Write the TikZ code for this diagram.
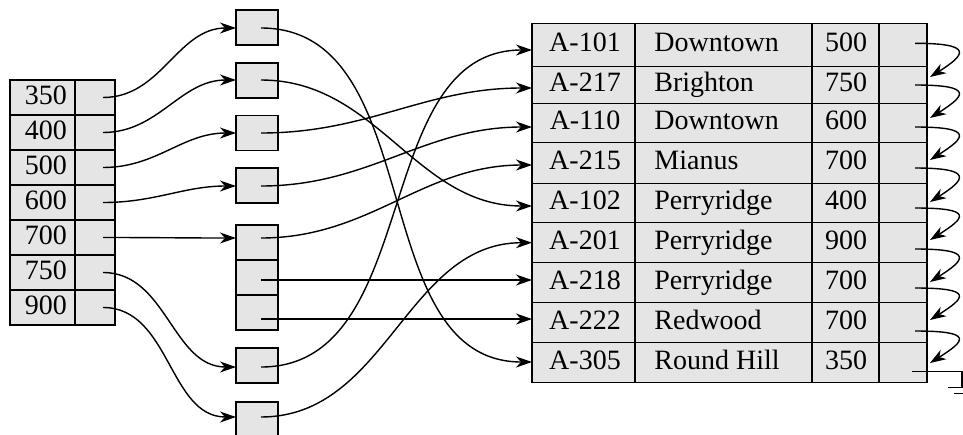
\documentclass[tikz,border=0pt]{standalone}
\usepackage{fontspec}
\setmainfont{Liberation Serif}
\usetikzlibrary{arrows.meta,calc}
\begin{document}
\begin{tikzpicture}[x=0.5pt,y=-0.5pt,
  cell/.style={draw, fill=gray!20, line width=0.7pt, inner sep=0pt, outer sep=0pt},
  txt/.style={inner sep=0pt, font=\fontsize{14pt}{16pt}\selectfont, text height=0.66em, text depth=0pt},
  ptr/.style={line width=0.7pt},
  arr/.style={line width=0.7pt, -{Stealth[length=8pt,width=5.5pt,inset=2.5pt]}},
]
\useasboundingbox (0,0) rectangle (963,434);

% ---------- left index ----------
\foreach \v [count=\i] in {350,400,500,600,700,750,900}{
  \node[cell, minimum width=32.5pt, minimum height=17.5pt] (k\i) at (42.5,{62.5+35*\i}) {};
  \node[txt] (kt\i) at (46,{62.5+35*\i}) {\v};
  \node[cell, minimum width=20pt, minimum height=17.5pt] (p\i) at (95,{62.5+35*\i}) {};
  \coordinate (pk\i) at ($(p\i.center)+(8,0)$);
}

% ---------- buckets ----------
\foreach \n/\y in {b1/27.5, b2/80.5, b3/133, b4/185.5, b5a/242.5, b5b/277.5, b5c/312.5, b6/365.5, b7/419.5}{
  \node[cell, minimum width=21pt, minimum height=17.5pt] (\n) at (257,\y) {};
}
\coordinate (pb1) at ($(b1.center)+(4,0.5)$);
\coordinate (pb2) at ($(b2.center)+(4,-0.5)$);
\coordinate (pb3) at ($(b3.center)+(4,0)$);
\coordinate (pb4) at ($(b4.center)+(4,0.5)$);
\coordinate (pb5a) at ($(b5a.center)+(4,-4.5)$);
\coordinate (pb5b) at ($(b5b.center)+(4,2.5)$);
\coordinate (pb5c) at ($(b5c.center)+(4,6.5)$);
\coordinate (pb6) at ($(b6.center)+(4,1.5)$);
\coordinate (pb7) at ($(b7.center)+(4,-2.5)$);

% ---------- file table ----------
\foreach \i/\c/\h/\ac/\br/\bal in {
  1/45/21.7/A-101/Downtown/500,
  2/85/18.3/A-217/Brighton/750,
  3/123/19.7/A-110/Downtown/600,
  4/163/20.3/A-215/Mianus/700,
  5/203/19.7/A-102/Perryridge/400,
  6/242.7/20/A-201/Perryridge/900,
  7/282.7/20/A-218/Perryridge/700,
  8/322.7/20/A-222/Redwood/700,
  9/362.7/20/A-305/Round Hill/350}{
  \node[cell, minimum width=51.5pt, minimum height=\h pt] (a\i) at (583.5,\c) {};
  \node[cell, minimum width=88.5pt, minimum height=\h pt] (n\i) at (723.5,\c) {};
  \node[cell, minimum width=33.5pt, minimum height=\h pt] (bal\i) at (845.5,\c) {};
  \node[cell, minimum width=24pt, minimum height=\h pt] (d\i) at (903,\c) {};
  \node[txt] (at\i) at (585,\c) {\ac};
  \node[txt, anchor=west] (nt\i) at (654,\c) {\br};
  \node[txt] (balt\i) at (846,\c) {\bal};
}

% ---------- index -> buckets ----------
\draw[arr] (pk1) to[out=0,in=180] (b1.west |- pb1);
\draw[arr] (pk2) to[out=0,in=180] (b2.west |- pb2);
\draw[arr] (pk3) to[out=0,in=180] (b3.west |- pb3);
\draw[arr] (pk4) to[out=0,in=180] (b4.west |- pb4);
\draw[arr] (pk5) to[out=0,in=180] (b5a.west |- pb5a);
\draw[arr] (pk6) to[out=0,in=180] (b6.west |- pb6);
\draw[arr] (pk7) to[out=0,in=180] (b7.west |- pb7);

% ---------- buckets -> records ----------
\draw[arr] (pb1) to[out=0,in=180] ($(a9.west)+(0,-0.7)$);
\draw[arr] (pb2) to[out=0,in=180] ($(a5.west)+(0,3)$);
\draw[arr] (pb3) to[out=0,in=180] ($(a2.west)+(0,3)$);
\draw[arr] (pb4) to[out=0,in=180] ($(a3.west)+(0,4)$);
\draw[arr] (pb5a) to[out=0,in=180] ($(a4.west)+(0,2)$);
\draw[arr] (pb5b) -- (pb5b -| a7.west);
\draw[arr] (pb5c) -- (pb5c -| a8.west);
\draw[arr] (pb6) to[out=0,in=180] ($(a1.west)+(0,5)$);
\draw[arr] (pb7) to[out=0,in=180] (a6.west);

% ---------- record chain ----------
\foreach \i/\j/\dy/\dt in {1/2/-1.7/-8, 2/3/0/-5, 3/4/4/-3, 4/5/5/-1, 5/6/5/-2.7, 6/7/6.3/-0.7, 7/8/5.3/-2.7, 8/9/8.3/0.3}{
  \draw[arr] ($(d\i.center)+(12,\dy)$) .. controls +(60,0) and +(35,-22) .. ($(d\j.east)+(3,\dt)$);
}
\draw[ptr] ($(d9.center)+(9,9)$) -- ++(50,0) -- ++(0,16) ++(-14,0) -- ++(28,0) ++(-22,6) -- ++(16,0);
\end{tikzpicture}
\end{document}
